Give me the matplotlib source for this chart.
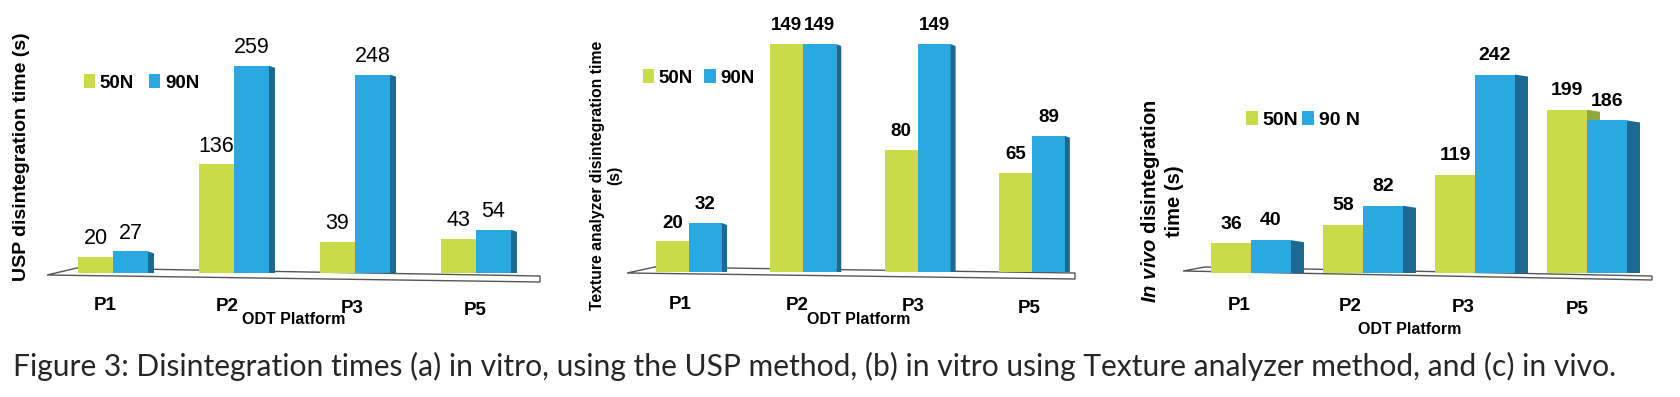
import matplotlib
matplotlib.use("Agg")
import matplotlib.pyplot as plt
from matplotlib.patches import Polygon
from matplotlib.transforms import ScaledTranslation
import numpy as np

plt.rcParams['font.family'] = ['Liberation Sans', 'DejaVu Sans']
plt.rcParams['mathtext.fontset'] = 'custom'
plt.rcParams['mathtext.rm'] = 'Liberation Sans:bold'
plt.rcParams['mathtext.bfit'] = 'Liberation Sans:italic:bold'
plt.rcParams['mathtext.it'] = 'Liberation Sans:italic:bold'

# ---------------- data ----------------
platforms = ["P1", "P2", "P3", "P5"]
usp_50n = [20, 136, 39, 43]
usp_90n = [27, 259, 248, 54]
texture_50n = [20, 149, 80, 65]
texture_90n = [32, 149, 149, 89]
invivo_50n = [36, 58, 119, 199]
invivo_90n = [40, 82, 242, 186]
legend_a = ["50N", "90N"]
legend_b = ["50N", "90N"]
legend_c = ["50N", "90 N"]
ylabel_a = "USP disintegration time (s)"
ylabel_b = "Texture analyzer disintegration time\n(s)"
ylabel_c = "$\\mathbfit{In\\ vivo}$ disintegration\ntime (s)"
xlabel_all = "ODT Platform"
caption = ("Figure 3: Disintegration times (a) in vitro, using the USP method, "
           "(b) in vitro using Texture analyzer method, and (c) in vivo.")

GREEN = "#C9DB48"
GREEN_SIDE = "#8FA83A"
BLUE = "#2AA9E0"
BLUE_SIDE = "#1C6A93"

W, H = 1681, 397
fig = plt.figure(figsize=(W / 100, H / 100), dpi=100)


def fig_xy(px, py):
    return (px / W, 1 - py / H)


def panel(v50, v90, labels, ylabel, cfg):
    L, R, T, B = cfg["box"]
    ax = fig.add_axes([L / W, 1 - B / H, (R - L) / W, (B - T) / H])
    x0, dx, base, sc = cfg["x0"], cfg["dx"], cfg["base"], cfg["scale"]
    ax.set_xlim((L - x0) / dx, (R - x0) / dx)
    ax.set_ylim((base - B) / sc, (base - T) / sc)
    for s in ax.spines.values():
        s.set_visible(False)
    ax.set_yticks([])

    def d(px, py):
        return ((px - x0) / dx, (base - py) / sc)

    # floor
    fl = cfg["floor"]
    ax.add_patch(Polygon([d(*p) for p in fl], closed=True, facecolor="white",
                         edgecolor="#555555", lw=1.0, zorder=0, clip_on=False))

    x = np.arange(len(platforms))
    w = cfg["w"] / dx
    dep = cfg["depth"] / dx
    drop = cfg["drop"] / sc
    b1 = ax.bar(x - w / 2, v50, width=w, color=GREEN, zorder=2, label=labels[0])
    for xi, v in zip(x, v50):
        xr = xi
        ax.add_patch(Polygon([(xr, 0), (xr + dep, 0), (xr + dep, v - drop), (xr, v)],
                             facecolor=GREEN_SIDE, edgecolor="none", zorder=1.5))
    b2 = ax.bar(x + w / 2, v90, width=w, color=BLUE, zorder=3, label=labels[1])
    for xi, v in zip(x, v90):
        xr = xi + w
        ax.add_patch(Polygon([(xr, 0), (xr + dep, 0), (xr + dep, v - drop), (xr, v)],
                             facecolor=BLUE_SIDE, edgecolor="none", zorder=3))

    vfont = cfg["vfont"]
    for bars, vals in ((b1, v50), (b2, v90)):
        for r, v in zip(bars, vals):
            ax.annotate(str(v), (r.get_x() + r.get_width() / 2, v),
                        xytext=(0, cfg["voff"]), textcoords="offset points",
                        ha="center", va="center", zorder=5, **vfont)

    ax.set_xticks(x, platforms, fontsize=13.5, fontweight="bold")
    ax.tick_params(axis="x", length=0, pad=cfg["tpad"])
    # slight perspective shift of the category labels
    for lab, (ox, oy) in zip(ax.get_xticklabels(), cfg["tshift"]):
        lab.set_transform(lab.get_transform() +
                          ScaledTranslation(ox / 100, -oy / 100, fig.dpi_scale_trans))

    ax.set_ylabel(ylabel, fontsize=cfg["ylsize"], fontweight="bold",
                  multialignment="center")
    ax.yaxis.set_label_coords(*fig_xy(*cfg["ylpos"]), transform=fig.transFigure)
    ax.yaxis.label.set_va("center")

    ax.set_xlabel(xlabel_all, fontsize=11.5, fontweight="bold")
    ax.xaxis.set_label_coords(*fig_xy(*cfg["xlpos"]), transform=fig.transFigure)
    ax.xaxis.label.set_va("center")

    ax.legend(handles=[b1, b2], labels=labels, ncol=2, loc="center left",
              bbox_to_anchor=fig_xy(*cfg["legpos"]), bbox_transform=fig.transFigure,
              frameon=False, handlelength=0.6, handleheight=0.75, handletextpad=0.25,
              columnspacing=cfg["colsp"], borderpad=0, borderaxespad=0,
              prop={"size": cfg["legsize"], "weight": "bold"})
    return ax


cfg_a = dict(box=(40, 550, 0, 283), x0=113, dx=121, base=273, scale=0.8, w=35,
             depth=6, drop=2, floor=[(47, 275), (77, 268), (540, 276), (540, 282)],
             vfont=dict(fontsize=15.5, family=["Liberation Sans Narrow", "Liberation Sans"]),
             voff=13, tpad=10, tshift=[(-8, 0), (-7, 1), (-3, 3), (-1, 5)],
             ylsize=14, ylpos=(22, 157), xlpos=(294, 320),
             legpos=(84, 83), colsp=0.8, legsize=13.5)
cfg_b = dict(box=(620, 1085, 0, 281), x0=689, dx=114.3, base=272, scale=1.53, w=33,
             depth=5, drop=2, floor=[(627, 273), (655, 267), (1075, 273), (1075, 279)],
             vfont=dict(fontsize=13.5, fontweight="bold"),
             voff=13, tpad=11, tshift=[(-9, 0), (-6, 1), (-4, 2), (-3, 4)],
             ylsize=11.3, ylpos=(606, 175), xlpos=(859, 320),
             legpos=(643, 78), colsp=0.6, legsize=13.5)
cfg_c = dict(box=(1180, 1660, 0, 279), x0=1251, dx=112, base=273, scale=0.82, w=40,
             depth=13, drop=2, floor=[(1183, 271), (1205, 267), (1652, 276), (1652, 280)],
             vfont=dict(fontsize=14, fontweight="bold"),
             voff=14, tpad=13, tshift=[(-12, 0), (-13, 1), (-12, 2), (-10, 4)],
             ylsize=14.5, ylpos=(1162, 201), xlpos=(1410, 330),
             legpos=(1246, 120), colsp=0.2, legsize=14)

panel(usp_50n, usp_90n, legend_a, ylabel_a, cfg_a)
panel(texture_50n, texture_90n, legend_b, ylabel_b, cfg_b)
panel(invivo_50n, invivo_90n, legend_c, ylabel_c, cfg_c)

# caption, sized to span the reference width
cap = fig.text(*fig_xy(13, 366), caption, ha="left", va="center", color="#262626",
               fontsize=15, family=["Lato", "DejaVu Sans"])
fig.canvas.draw()
wpx = cap.get_window_extent().width
cap.set_fontsize(15 * 1606 / wpx)

fig.savefig("out.png", dpi=100)
